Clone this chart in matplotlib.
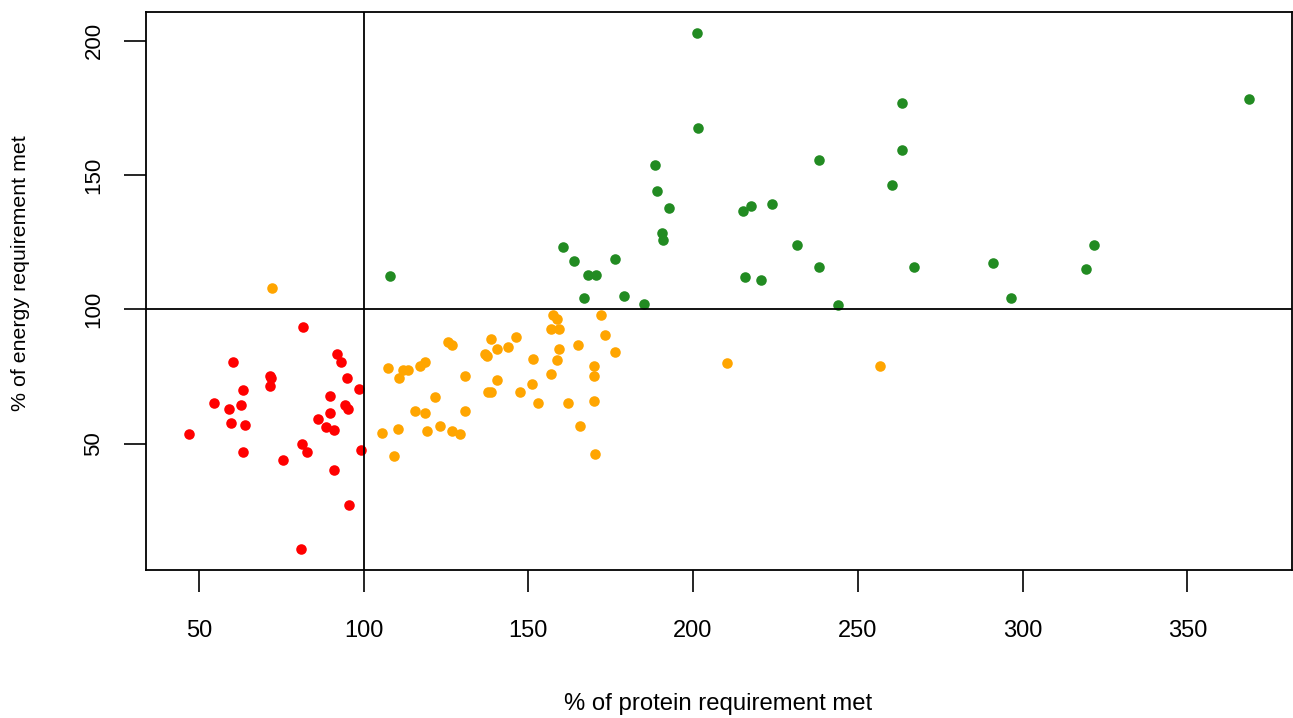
import matplotlib.pyplot as plt
import numpy as np

plt.rcParams['font.family'] = ['Liberation Sans', 'DejaVu Sans']

# protein % (x) and energy % (y), by group
red_x = [81.5, 60.4, 92.1, 93.3, 71.5, 71.9, 95.1, 71.5, 63.3, 98.5, 54.5, 89.7, 62.7,
         59.1, 94.5, 95.2, 89.7, 86.3, 59.8, 63.9, 88.6, 91.1, 46.9, 81.4, 82.7, 63.3,
         99.2, 75.6, 90.9, 95.6, 80.9]
red_y = [93.3, 80.3, 83.5, 80.3, 75.4, 74.4, 74.5, 71.6, 70.1, 70.3, 65.0, 67.9, 64.3,
         62.9, 64.4, 62.9, 61.4, 59.4, 57.8, 57.1, 56.3, 55.0, 53.5, 49.9, 46.9, 46.9,
         47.6, 44.0, 40.4, 27.4, 10.7]

orange_x = [157.4, 158.6, 172.2, 156.8, 159.4, 173.2, 125.6, 126.9, 146.4, 138.8, 140.4,
            143.9, 136.8, 137.5, 159.2, 165.0, 176.3, 151.5, 158.6, 118.8, 117.0, 107.5,
            112.0, 113.4, 110.9, 169.9, 169.9, 130.9, 156.8, 140.4, 151.0, 137.8, 138.8,
            147.5, 121.6, 152.8, 162.1, 169.9, 115.7, 118.7, 130.9, 123.3, 110.4, 105.7,
            119.2, 126.9, 129.2, 165.6, 109.2, 170.3, 72.1, 210.3, 256.8]
orange_y = [97.9, 96.4, 97.9, 92.6, 92.6, 90.4, 87.7, 86.9, 89.8, 89.1, 85.3,
            86.1, 83.5, 82.5, 85.3, 86.9, 84.1, 81.6, 81.0, 80.5, 79.0, 78.1,
            77.5, 77.5, 74.4, 79.0, 75.1, 75.1, 76.0, 73.8, 72.4, 69.4, 69.4,
            69.4, 67.3, 65.0, 65.0, 65.9, 62.2, 61.4, 62.1, 56.5, 55.6, 54.1,
            54.9, 54.9, 53.5, 56.5, 45.5, 46.3, 107.8, 79.9, 78.8]

green_x = [107.9, 188.6, 189.2, 192.8, 190.5, 191.0, 160.4, 163.9, 176.4, 168.1, 170.5,
           166.8, 179.2, 185.2, 215.1, 217.6, 224.0, 238.1, 231.7, 238.1, 215.8, 220.5,
           244.0, 201.1, 201.6, 263.4, 263.4, 260.5, 368.8, 267.0, 291.1, 296.4, 321.7,
           319.3]
green_y = [112.3, 153.6, 144.1, 137.6, 128.4, 126.0, 123.1, 118.0, 118.8, 112.9, 112.9,
           104.4, 105.0, 102.1, 136.8, 138.3, 139.1, 155.7, 123.8, 115.8, 112.2, 110.8,
           101.5, 202.9, 167.4, 176.9, 159.5, 146.3, 178.2, 115.8, 117.3, 104.2, 123.9,
           115.0]

fig = plt.figure(figsize=(12.93, 7.18), dpi=100)
ax = fig.add_axes([0.113, 0.206, 0.886, 0.777])

for xs, ys, col in [(red_x, red_y, 'red'), (orange_x, orange_y, 'orange'),
                    (green_x, green_y, '#228B22')]:
    ax.plot(xs, ys, 'o', color=col, markersize=7.6, markeredgewidth=0)

ax.axvline(100, color='black', linewidth=1.3)
ax.axhline(100, color='black', linewidth=1.3)

# R-style 4% padding
allx = np.array(red_x + orange_x + green_x)
ally = np.array(red_y + orange_y + green_y)
px = 0.04 * (allx.max() - allx.min())
py = 0.04 * (ally.max() - ally.min())
ax.set_xlim(allx.min() - px, allx.max() + px)
ax.set_ylim(ally.min() - py, ally.max() + py)

ax.set_xticks([50, 100, 150, 200, 250, 300, 350])
ax.set_yticks([50, 100, 150, 200])
ax.tick_params(axis='both', length=16, width=1.2)
ax.tick_params(axis='x', pad=20, labelsize=17)
ax.tick_params(axis='y', pad=14, labelsize=16)
for lab in ax.get_yticklabels():
    lab.set_rotation(90)
    lab.set_va('center')
for s in ax.spines.values():
    s.set_linewidth(1.3)

fig.text(0.555, 0.004, '% of protein requirement met', ha='center', va='bottom', fontsize=17.2)
fig.text(0.016, 0.62, '% of energy requirement met', ha='center', va='center',
         rotation=90, fontsize=15.4)

plt.savefig('out.png', dpi=100)
